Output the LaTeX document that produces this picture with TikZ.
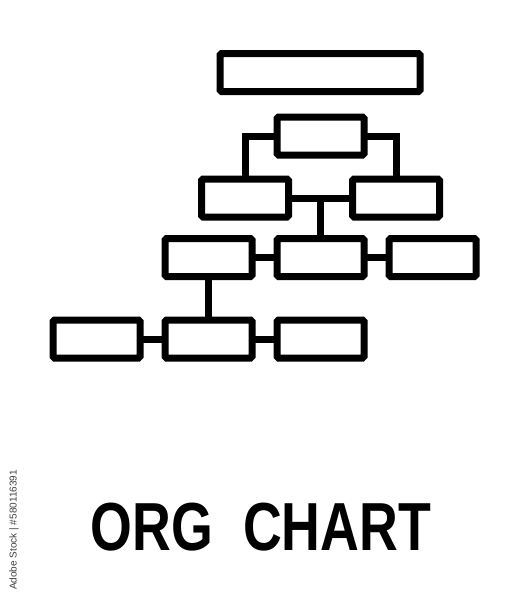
\documentclass[tikz,border=0pt]{standalone}
\usepackage{fontspec}
\newfontfamily\titlefont[FakeStretch=0.79]{Liberation Sans Bold}
\newfontfamily\markfont{Liberation Sans}
\begin{document}
\begin{tikzpicture}[x=1pt,y=-1pt,
  box/.style={draw=black, line width=7pt, rounded corners=1.5pt, fill=white,
    inner sep=0pt, outer sep=0pt, minimum width=87pt, minimum height=38pt},
  link/.style={draw=black, line width=7pt}]
\fill[white] (0,0) rectangle (530,600);
\useasboundingbox (0,0) rectangle (530,600);
% nodes
\node[box, minimum width=200pt] (top) at (320,72.5) {};
\node[box] (b2) at (320.5,136) {};
\node[box] (b3) at (245,198) {};
\node[box] (b4) at (396,198) {};
\node[box] (b5) at (208.5,257.5) {};
\node[box] (b6) at (320.5,257.5) {};
\node[box] (b7) at (432.5,257.5) {};
\node[box] (b8) at (96.5,339) {};
\node[box] (b9) at (208.5,339) {};
\node[box] (b10) at (320.5,339) {};
% connectors
\path[link] (b2.west) -| (b3.north);
\path[link] (b2.east) -| (b4.north);
\path[link] (b3.east) -- (b4.west);
\path[link] (b6.north) -- (b6.north |- b3.east);
\path[link] (b5.east) -- (b6.west);
\path[link] (b6.east) -- (b7.west);
\path[link] (b5.south) -- (b9.north);
\path[link] (b8.east) -- (b9.west);
\path[link] (b9.east) -- (b10.west);
% title
\node[anchor=base, inner sep=0pt, font=\titlefont\fontsize{68}{68}\selectfont] (title) at (261,550) {ORG\ \ CHART};
\node[anchor=center, rotate=90, inner sep=0pt, text=black!75, font=\markfont\fontsize{10}{12}\selectfont] (mark) at (14,530) {Adobe Stock | \#580116391};
\end{tikzpicture}
\end{document}
